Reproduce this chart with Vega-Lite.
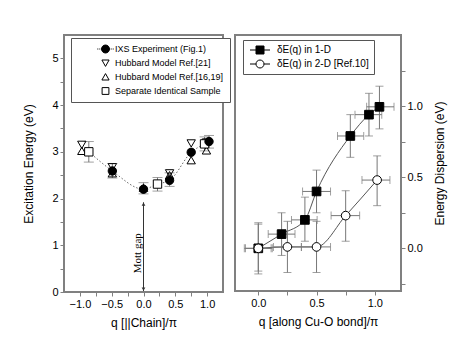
{
  "$schema": "https://vega.github.io/schema/vega-lite/v6.json",
  "background": "white",
  "padding": {"left": 21, "top": 34, "right": 5, "bottom": 5},
  "bounds": "flush",
  "resolve": {"scale": {"shape": "independent", "fill": "independent", "stroke": "independent"}, "legend": {"shape": "independent", "fill": "independent", "stroke": "independent"}},
  "config": {
    "font": "Liberation Sans",
    "view": {"stroke": "#808080", "strokeWidth": 2},
    "axis": {"domain": false, "grid": false, "tickColor": "#808080", "tickSize": 4, "tickWidth": 1, "labelFontSize": 11, "labelColor": "black", "labelPadding": 2, "titleFontSize": 12, "titleFontWeight": "normal", "titleColor": "black", "labelFlush": false, "labelOverlap": false},
    "concat": {"spacing": 12},
    "legend": {"labelFontSize": 9, "labelColor": "black", "labelLimit": 300, "strokeColor": "#555", "fillColor": "white", "padding": 5, "rowPadding": 4, "symbolSize": 64, "clipHeight": 10, "orient": "none", "title": null, "symbolOpacity": 1, "symbolStrokeWidth": 1}
  },
  "datasets": {
    "left": [
      {"series": "Hubbard Model Ref.[21]", "q": -0.97, "E": 3.15},
      {"series": "Hubbard Model Ref.[21]", "q": -0.49, "E": 2.67},
      {"series": "Hubbard Model Ref.[21]", "q": 0.41, "E": 2.54},
      {"series": "Hubbard Model Ref.[21]", "q": 0.75, "E": 3.18},
      {"series": "Hubbard Model Ref.[21]", "q": 0.99, "E": 3.2},
      {"series": "Hubbard Model Ref.[16,19]", "q": -0.97, "E": 3.02},
      {"series": "Hubbard Model Ref.[16,19]", "q": -0.49, "E": 2.54},
      {"series": "Hubbard Model Ref.[16,19]", "q": 0.0, "E": 2.23},
      {"series": "Hubbard Model Ref.[16,19]", "q": 0.41, "E": 2.5},
      {"series": "Hubbard Model Ref.[16,19]", "q": 0.75, "E": 2.82},
      {"series": "Hubbard Model Ref.[16,19]", "q": 0.99, "E": 3.03},
      {"series": "Separate Identical Sample", "q": -0.86, "E": 3.0, "lo": 2.78, "hi": 3.22},
      {"series": "Separate Identical Sample", "q": 0.22, "E": 2.31, "lo": 2.16, "hi": 2.45},
      {"series": "Separate Identical Sample", "q": 0.96, "E": 3.17, "lo": 3.02, "hi": 3.32},
      {"series": "IXS Experiment (Fig.1)", "q": -0.49, "E": 2.59, "lo": 2.44, "hi": 2.75},
      {"series": "IXS Experiment (Fig.1)", "q": 0.0, "E": 2.2, "lo": 2.1, "hi": 2.34},
      {"series": "IXS Experiment (Fig.1)", "q": 0.41, "E": 2.39, "lo": 2.26, "hi": 2.55},
      {"series": "IXS Experiment (Fig.1)", "q": 0.75, "E": 2.99},
      {"series": "IXS Experiment (Fig.1)", "q": 1.03, "E": 3.22, "lo": 3.08, "hi": 3.35}
    ],
    "mott": [{"q": 0, "E": 0.02, "E2": 1.92, "Et": 0.83, "label": "Mott gap"}],
    "mottHeads": [{"q": 0, "E": 0.06, "dir": "down"}, {"q": 0, "E": 1.88, "dir": "up"}],
    "right": [
      {"series": "δE(q) in 1-D", "q": 0.0, "E": 0.0, "qlo": -0.11, "qhi": 0.11, "elo": -0.16, "ehi": 0.17},
      {"series": "δE(q) in 1-D", "q": 0.2, "E": 0.1, "qlo": 0.085, "qhi": 0.315, "elo": -0.05, "ehi": 0.25},
      {"series": "δE(q) in 1-D", "q": 0.4, "E": 0.2, "qlo": 0.285, "qhi": 0.505, "elo": 0.05, "ehi": 0.36},
      {"series": "δE(q) in 1-D", "q": 0.5, "E": 0.4, "qlo": 0.38, "qhi": 0.62, "elo": 0.25, "ehi": 0.55},
      {"series": "δE(q) in 1-D", "q": 0.79, "E": 0.79, "qlo": 0.68, "qhi": 0.905, "elo": 0.64, "ehi": 0.94},
      {"series": "δE(q) in 1-D", "q": 0.95, "E": 0.94, "qlo": 0.83, "qhi": 1.06, "elo": 0.79, "ehi": 1.09},
      {"series": "δE(q) in 1-D", "q": 1.04, "E": 0.995, "qlo": 0.93, "qhi": 1.165, "elo": 0.84, "ehi": 1.14},
      {"series": "δE(q) in 2-D [Ref.10]", "q": 0.0, "E": 0.0, "qlo": -0.12, "qhi": 0.12, "elo": -0.18, "ehi": 0.18},
      {"series": "δE(q) in 2-D [Ref.10]", "q": 0.25, "E": 0.01, "qlo": 0.13, "qhi": 0.37, "elo": -0.17, "ehi": 0.19},
      {"series": "δE(q) in 2-D [Ref.10]", "q": 0.5, "E": 0.01, "qlo": 0.37, "qhi": 0.62, "elo": -0.17, "ehi": 0.19},
      {"series": "δE(q) in 2-D [Ref.10]", "q": 0.75, "E": 0.23, "qlo": 0.625, "qhi": 0.87, "elo": 0.05, "ehi": 0.405},
      {"series": "δE(q) in 2-D [Ref.10]", "q": 1.02, "E": 0.48, "qlo": 0.89, "qhi": 1.13, "elo": 0.3, "ehi": 0.65}
    ]
  },
  "hconcat": [
    {
      "width": 159,
      "height": 257,
      "resolve": {"scale": {"shape": "independent", "fill": "independent", "stroke": "independent"}},
      "encoding": {
        "x": {"field": "q", "type": "quantitative", "title": "q [||Chain]/π", "scale": {"domain": [-1.25, 1.25], "nice": false, "zero": false},
          "axis": {"values": [-1, -0.75, -0.5, -0.25, 0, 0.25, 0.5, 0.75, 1], "labelExpr": "datum.value % 0.5 == 0 ? format(datum.value, '.1f') : ''", "titlePadding": 8}},
        "y": {"field": "E", "type": "quantitative", "title": "Excitation Energy (eV)", "scale": {"domain": [0, 5.5], "nice": false, "zero": false},
          "axis": {"values": [0, 0.5, 1, 1.5, 2, 2.5, 3, 3.5, 4, 4.5, 5], "labelExpr": "datum.value % 1 == 0 ? format(datum.value, 'd') : ''", "titlePadding": 16}}
      },
      "layer": [
        {
          "data": {"name": "left"},
          "transform": [{"filter": {"field": "series", "oneOf": ["IXS Experiment (Fig.1)", "Separate Identical Sample"]}}],
          "mark": {"type": "line", "interpolate": "monotone", "color": "#666", "strokeWidth": 1, "strokeDash": [1.5, 2]}
        },
        {
          "data": {"name": "left"},
          "transform": [{"filter": "isValid(datum.lo)"}],
          "mark": {"type": "errorbar", "color": "#777", "ticks": {"size": 10}},
          "encoding": {
            "y": {"field": "lo", "type": "quantitative", "title": "Excitation Energy (eV)"},
            "y2": {"field": "hi"}
          }
        },
        {
          "data": {"name": "mott"},
          "mark": {"type": "rule", "color": "#333", "strokeWidth": 1},
          "encoding": {"y2": {"field": "E2"}}
        },
        {
          "data": {"name": "mottHeads"},
          "transform": [{"filter": "datum.dir == 'up'"}],
          "mark": {"type": "point", "shape": "triangle-up", "filled": true, "color": "#333", "size": 14, "opacity": 1}
        },
        {
          "data": {"name": "mottHeads"},
          "transform": [{"filter": "datum.dir == 'down'"}],
          "mark": {"type": "point", "shape": "triangle-down", "filled": true, "color": "#333", "size": 14, "opacity": 1}
        },
        {
          "data": {"name": "mott"},
          "mark": {"type": "text", "angle": 270, "font": "Liberation Serif", "fontSize": 11, "baseline": "bottom", "align": "center", "dy": -1, "color": "black"},
          "encoding": {"y": {"field": "Et", "type": "quantitative", "title": "Excitation Energy (eV)"}, "text": {"field": "label"}}
        },
        {
          "data": {"name": "left"},
          "mark": {"type": "point", "stroke": "black", "strokeWidth": 1, "size": 70, "opacity": 1},
          "encoding": {
            "shape": {"field": "series", "type": "nominal",
              "scale": {"domain": ["Separate Identical Sample", "Hubbard Model Ref.[16,19]", "Hubbard Model Ref.[21]", "IXS Experiment (Fig.1)"], "range": ["square", "triangle-up", "triangle-down", "circle"]},
              "legend": null},
            "fill": {"field": "series", "type": "nominal",
              "scale": {"domain": ["Separate Identical Sample", "Hubbard Model Ref.[16,19]", "Hubbard Model Ref.[21]", "IXS Experiment (Fig.1)"], "range": ["white", "transparent", "transparent", "black"]},
              "legend": null}
          }
        },
        {
          "data": {"name": "left"},
          "mark": {"type": "point", "strokeWidth": 1, "size": 64, "opacity": 0},
          "encoding": {
            "shape": {"field": "series", "type": "nominal",
              "scale": {"domain": ["IXS Experiment (Fig.1)", "Hubbard Model Ref.[21]", "Hubbard Model Ref.[16,19]", "Separate Identical Sample"],
                "range": ["M-2.05,0H-1.8M-1.55,0H-1.3M1.3,0H1.55M1.8,0H2.05M1,0A1,1 0 1,1 -1,0A1,1 0 1,1 1,0Z", "M-0.9,-0.75L0.9,-0.75L0,0.85Z", "M0,-0.85L0.9,0.75L-0.9,0.75Z", "M-0.85,-0.85H0.85V0.85H-0.85Z"]},
              "legend": {"legendX": 7, "legendY": 3, "symbolOffset": 24, "labelOffset": 5, "labelFont": "Liberation Sans Narrow, Liberation Sans", "labelFontSize": 9, "padding": 6}},
            "fill": {"field": "series", "type": "nominal",
              "scale": {"domain": ["IXS Experiment (Fig.1)", "Hubbard Model Ref.[21]", "Hubbard Model Ref.[16,19]", "Separate Identical Sample"], "range": ["black", "white", "white", "white"]},
              "legend": {"legendX": 7, "legendY": 3, "symbolOffset": 24, "labelOffset": 5, "labelFont": "Liberation Sans Narrow, Liberation Sans", "labelFontSize": 9, "padding": 6}},
            "stroke": {"field": "series", "type": "nominal",
              "scale": {"domain": ["IXS Experiment (Fig.1)", "Hubbard Model Ref.[21]", "Hubbard Model Ref.[16,19]", "Separate Identical Sample"], "range": ["black", "black", "black", "black"]},
              "legend": {"legendX": 7, "legendY": 3, "symbolOffset": 24, "labelOffset": 5, "labelFont": "Liberation Sans Narrow, Liberation Sans", "labelFontSize": 9, "padding": 6}}
          }
        }
      ]
    },
    {
      "width": 166,
      "height": 256,
      "data": {"name": "right"},
      "resolve": {"scale": {"shape": "independent", "fill": "independent", "stroke": "independent"}},
      "encoding": {
        "x": {"field": "q", "type": "quantitative", "title": "q [along Cu-O bond]/π", "scale": {"domain": [-0.2, 1.225], "nice": false, "zero": false},
          "axis": {"values": [0, 0.25, 0.5, 0.75, 1], "labelExpr": "datum.value % 0.5 == 0 ? format(datum.value, '.1f') : ''", "titlePadding": 8}},
        "y": {"field": "E", "type": "quantitative", "title": "Energy Dispersion (eV)", "scale": {"domain": [-0.3, 1.5], "nice": false, "zero": false},
          "axis": {"orient": "right", "values": [-0.25, 0, 0.25, 0.5, 0.75, 1, 1.25], "labelExpr": "datum.value % 0.5 == 0 ? format(datum.value, '.1f') : ''", "titlePadding": 12, "titleAngle": 270, "titleBaseline": "top", "titleColor": "black"}}
      },
      "layer": [
        {
          "mark": {"type": "line", "interpolate": "monotone", "color": "#555", "strokeWidth": 1},
          "encoding": {"detail": {"field": "series"}}
        },
        {
          "mark": {"type": "errorbar", "color": "#777", "ticks": {"size": 8}},
          "encoding": {
            "x": {"field": "qlo", "type": "quantitative", "title": "q [along Cu-O bond]/π"},
            "x2": {"field": "qhi"}
          }
        },
        {
          "mark": {"type": "errorbar", "color": "#777", "ticks": {"size": 8}},
          "encoding": {
            "y": {"field": "elo", "type": "quantitative", "title": "Energy Dispersion (eV)"},
            "y2": {"field": "ehi"}
          }
        },
        {
          "mark": {"type": "point", "stroke": "black", "strokeWidth": 1, "size": 75, "opacity": 1},
          "encoding": {
            "shape": {"field": "series", "type": "nominal",
              "scale": {"domain": ["δE(q) in 2-D [Ref.10]", "δE(q) in 1-D"], "range": ["circle", "square"]},
              "legend": null},
            "fill": {"field": "series", "type": "nominal",
              "scale": {"domain": ["δE(q) in 2-D [Ref.10]", "δE(q) in 1-D"], "range": ["white", "black"]},
              "legend": null}
          }
        },
        {
          "mark": {"type": "point", "strokeWidth": 1, "size": 64, "opacity": 0},
          "encoding": {
            "shape": {"field": "series", "type": "nominal",
              "scale": {"domain": ["δE(q) in 1-D", "δE(q) in 2-D [Ref.10]"], "range": ["M-2.5,0H-1M1,0H2.5M-1,-1H1V1H-1Z", "M-2.5,0H-1M1,0H2.5M1,0A1,1 0 1,1 -1,0A1,1 0 1,1 1,0Z"]},
              "legend": {"legendX": 8, "legendY": 5, "symbolOffset": 7, "labelOffset": 12, "labelFontSize": 10}},
            "fill": {"field": "series", "type": "nominal",
              "scale": {"domain": ["δE(q) in 1-D", "δE(q) in 2-D [Ref.10]"], "range": ["black", "white"]},
              "legend": {"legendX": 8, "legendY": 5, "symbolOffset": 7, "labelOffset": 12, "labelFontSize": 10}},
            "stroke": {"field": "series", "type": "nominal",
              "scale": {"domain": ["δE(q) in 1-D", "δE(q) in 2-D [Ref.10]"], "range": ["black", "black"]},
              "legend": {"legendX": 8, "legendY": 5, "symbolOffset": 7, "labelOffset": 12, "labelFontSize": 10}}
          }
        }
      ]
    }
  ]
}
